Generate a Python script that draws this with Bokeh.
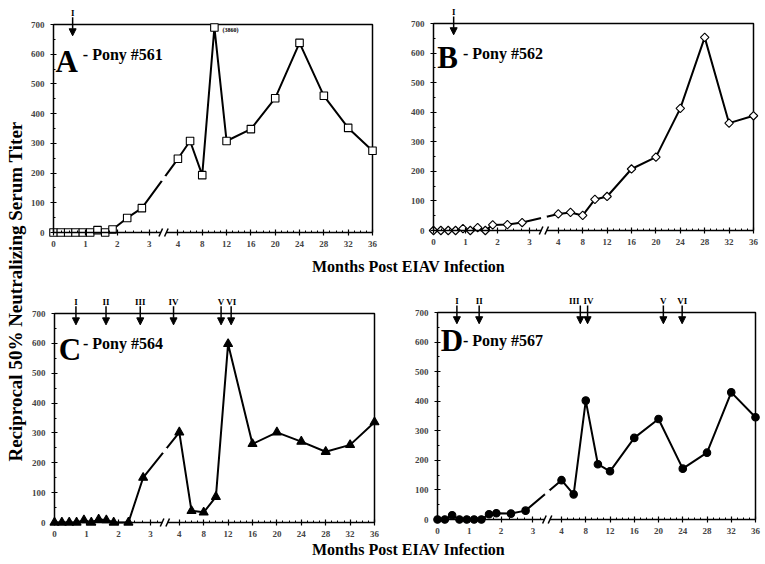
import numpy as np
from bokeh.plotting import figure
from bokeh.layouts import row, column
from bokeh.models import LinearAxis, FixedTicker, Range1d, Arrow, NormalHead, ColumnDataSource
from bokeh.core.properties import value
from bokeh.embed import file_html
from bokeh.resources import INLINE

# ---------------- data ----------------
EARLY_MONTHS = [0, 0.23, 0.46, 0.69, 0.92, 1.15, 1.38, 1.62, 1.85, 2.31, 2.77]
LATE_MONTHS = [4, 6, 8, 10, 12, 16, 20, 24, 28, 32, 36]
MONTHS = EARLY_MONTHS + LATE_MONTHS

PONY_561 = [0, 0, 0, 0, 0, 0, 8, 0, 10, 49, 82, 248, 308, 193, 3860, 308, 348, 452, 638, 460, 352, 275]
PONY_562 = [0, 0, 0, 0, 6, 0, 10, 0, 19, 20, 27, 56, 61, 51, 105, 115, 208, 248, 413, 653, 363, 388]
PONY_564 = [0, 0, 0, 0, 8, 0, 10, 8, 0, 0, 150, 302, 39, 34, 86, 598, 263, 302, 271, 237, 260, 336]
PONY_567 = [0, 0, 14, 0, 0, 0, 0, 18, 21, 20, 30, 133, 85, 402, 187, 163, 276, 340, 172, 226, 430, 346]

EPISODES_561 = [0.6]
EPISODES_562 = [0.63]
EPISODES_564 = [0.67, 1.61, 2.68, 3.8, 10.85, 12.5]
EPISODES_567 = [0.61, 1.31, 7.1, 8.3, 20.8, 23.9]
EPISODE_LABELS = ["I", "II", "III", "IV", "V", "VI"]

X_TICK_MONTHS = [0, 1, 2, 3, 4, 8, 12, 16, 20, 24, 28, 32, 36]
X_TICK_LABELS = ["0", "1", "2", "3", "4", "8", "12", "16", "20", "24", "28", "32", "36"]
X_MINOR_EARLY = [0.25, 0.5, 0.75, 1.25, 1.5, 1.75, 2.25, 2.5, 2.75, 3.25]
X_MINOR_LATE = [m for m in range(5, 36) if m % 4 != 0]
Y_TICKS = [0, 100, 200, 300, 400, 500, 600, 700]
Y_MINOR = [50, 150, 250, 350, 450, 550, 650]

# ---------------- layout constants ----------------
AXIS_MONTHS = [0, 3, 4, 36]     # broken axis: months -> axis position
AXIS_POS = [0, 3, 3.9, 10.0]
POS_MAX = 10.0
YMAX = 700
CLIP_Y = 690
BREAK_POS = 3.45
SERIF = "Liberation Serif"


def pos(m):
    return np.round(np.interp(np.asarray(m, dtype=float), AXIS_MONTHS, AXIS_POS), 4)


def panel(w, h, bx0, bx1, btop, bbot, vals, marker, fill, msize, angle,
          letter, letter_xy, name, name_xy, episodes, label_shift_px=None, note=None):
    pxx = (bx1 - bx0) / POS_MAX
    pxy = (bbot - btop) / YMAX
    p = figure(width=w, height=h,
               x_range=Range1d(-bx0 / pxx, (w - bx0) / pxx),
               y_range=Range1d(-(h - bbot) / pxy, bbot / pxy),
               x_axis_type=None, y_axis_type=None, min_border=0,
               toolbar_location=None, output_backend="svg", title=None)
    p.outline_line_color = None
    p.background_fill_color = "white"

    tick_pos = [float(v) for v in pos(X_TICK_MONTHS)]
    minor = [float(v) for v in pos(X_MINOR_EARLY + X_MINOR_LATE)]
    overrides = {tp: lab for tp, lab in zip(tick_pos, X_TICK_LABELS)}
    xaxis = LinearAxis(fixed_location=0, bounds=(0, POS_MAX),
                       ticker=FixedTicker(ticks=tick_pos, minor_ticks=minor),
                       major_label_overrides=overrides)
    yaxis = LinearAxis(fixed_location=0, bounds=(0, YMAX),
                       ticker=FixedTicker(ticks=Y_TICKS, minor_ticks=Y_MINOR))
    for ax in (xaxis, yaxis):
        ax.axis_line_width = 1.5
        ax.major_tick_in = 3
        ax.major_tick_out = 3
        ax.minor_tick_in = 2
        ax.minor_tick_out = 0
        ax.major_tick_line_width = 1.2
        ax.major_label_text_font = SERIF
        ax.major_label_text_font_style = "bold"
        ax.major_label_text_font_size = "9px"
    xaxis.major_label_standoff = 5
    yaxis.major_label_standoff = 6
    p.add_layout(xaxis, "below")
    p.add_layout(yaxis, "left")

    # box top and right edges
    p.line(x=[0, POS_MAX, POS_MAX], y=[YMAX, YMAX, 0], line_color="black", line_width=1.5)

    xs = pos(MONTHS)
    ys = np.minimum(np.asarray(vals, dtype=float), CLIP_Y)
    p.line(x=xs, y=ys, line_color="black", line_width=2)
    # gap of the data line at the axis break
    yc = float(np.interp(BREAK_POS, xs, ys))
    p.scatter(x=[BREAK_POS], y=[yc], marker="circle", size=6, fill_color="white", line_color=None)
    p.scatter(x=xs, y=ys, marker=marker, size=msize, angle=angle, fill_color=fill,
              line_color="black", line_width=1.1)

    # axis break marks
    wr = p.rect(x=[BREAK_POS], y=[0], width=5 / pxx, height=5 / pxy, fill_color="white", line_color=None)
    wr.level = "overlay"
    sx = [BREAK_POS - 2.8 / pxx, BREAK_POS + 2.8 / pxx]
    sl = p.segment(x0=[s - 1.8 / pxx for s in sx], y0=[-4 / pxy] * 2,
                   x1=[s + 1.8 / pxx for s in sx], y1=[4 / pxy] * 2,
                   line_color="black", line_width=1.5)
    sl.level = "overlay"

    # episode arrows
    n = len(episodes)
    ex = pos(episodes)
    shifts = np.zeros(n) if label_shift_px is None else np.asarray(label_shift_px, dtype=float)
    src = ColumnDataSource(dict(x=ex, lx=ex + shifts / pxx, y0=[724] * n, y1=[662] * n,
                                ly=[738] * n, label=EPISODE_LABELS[:n]))
    p.add_layout(Arrow(end=NormalHead(size=7, fill_color="black", line_color="black", line_width=1),
                       x_start="x", y_start="y0", x_end="x", y_end="y1",
                       source=src, line_width=1.5, line_color="black"))
    p.text(x="lx", y="ly", text="label", source=src, text_font=value(SERIF),
           text_font_style="bold", text_font_size="9px", text_align="center",
           text_baseline="middle", text_color="black")

    # panel title
    p.text(x=[letter_xy[0]], y=[letter_xy[1]], text=[letter], text_font=value(SERIF),
           text_font_style="bold", text_font_size="31px", text_align="left",
           text_baseline="alphabetic", text_color="black")
    p.text(x=[name_xy[0]], y=[name_xy[1]], text=[name], text_font=value(SERIF),
           text_font_style="bold", text_font_size="16px", text_align="left",
           text_baseline="alphabetic", text_color="black")
    if note is not None:
        p.text(x=[note[0]], y=[note[1]], text=[note[2]], text_font=value(SERIF),
               text_font_style="bold", text_font_size="6px", text_align="left",
               text_baseline="middle", text_color="black")
    return p


def strip(w, h, text, tx, ty, size, angle=0.0):
    p = figure(width=w, height=h, x_range=Range1d(0, w), y_range=Range1d(0, h),
               x_axis_type=None, y_axis_type=None, min_border=0,
               toolbar_location=None, output_backend="svg", title=None)
    p.outline_line_color = None
    p.text(x=[tx], y=[ty], text=[text], angle=angle, text_font=value(SERIF),
           text_font_style="bold", text_font_size=size, text_align="center",
           text_baseline="middle", text_color="black")
    return p


pA = panel(367, 256, 25, 344, 24, 232, PONY_561, "square", "white", 7.5, 0,
           "A", (0.06, 576), "- Pony #561", (0.92, 598), EPISODES_561,
           note=(5.3, 683, "(3860)"))
pB = panel(368, 256, 38, 358, 23, 230, PONY_562, "square", "white", 6, np.pi / 4,
           "B", (0.12, 584), "- Pony #562", (0.92, 600), EPISODES_562)
pC = panel(367, 256, 26, 346, 31, 240, PONY_564, "triangle", "black", 9, 0,
           "C", (0.13, 578), "- Pony #564", (0.89, 598), EPISODES_564)
pD = panel(368, 256, 42, 360, 30, 237, PONY_567, "circle", "black", 7.5, 0,
           "D", (0.10, 606), "- Pony #567", (0.80, 605), EPISODES_567,
           label_shift_px=[0, 0, -6, 1, 0, 0])

xl1 = strip(735, 26, "Months Post EIAV Infection", 380, 16, "16px")
xl2 = strip(735, 24, "Months Post EIAV Infection", 380, 13, "16px")
yl = strip(28, 562, "Reciprocal 50% Neutralizing Serum Titer", 15, 271, "19px", np.pi / 2)

layout = row(yl, column(row(pA, pB), xl1, row(pC, pD), xl2))

open("out.html", "w").write(file_html(layout, INLINE))
